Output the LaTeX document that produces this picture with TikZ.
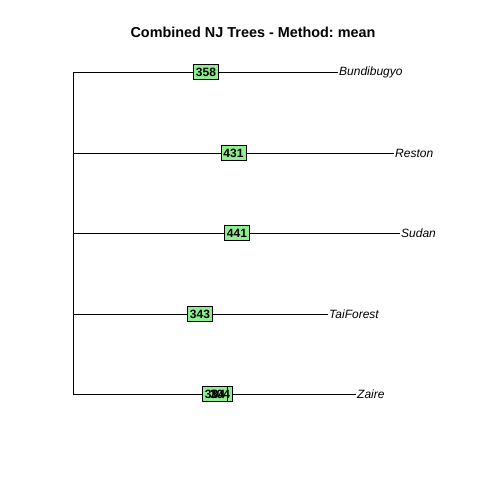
\documentclass[tikz,border=0pt]{standalone}
\usepackage{fontspec}
\setmainfont{Liberation Sans}
\definecolor{lgreen}{HTML}{90EE90}
\begin{document}
\frenchspacing
\begin{tikzpicture}[x=1pt,y=-1pt,
  edge/.style={draw=black,line width=0.75pt},
  tiplab/.style={anchor=west,inner sep=1pt,font=\fontsize{12}{12}\selectfont\itshape},
  nlab/.style={draw=black,fill=lgreen,line width=0.6pt,inner xsep=2.6pt,inner ysep=0pt,minimum height=15pt,font=\fontsize{12}{12}\selectfont\bfseries},
  ntxt/.style={inner sep=0pt,font=\fontsize{12}{12}\selectfont\bfseries},
  ttl/.style={font=\fontsize{14.4}{14.4}\selectfont\bfseries}]
\useasboundingbox (0,0) rectangle (480,480);
\node[ttl] (title) at (253,32) {Combined NJ Trees - Method: mean};
\coordinate (rtop) at (73,72);
\coordinate (rbot) at (73,394);
\coordinate (r2) at (73,153);
\coordinate (r3) at (73,233);
\coordinate (r4) at (73,314);
\coordinate (e1) at (338,72);
\coordinate (e2) at (394,153);
\coordinate (e3) at (400,233);
\coordinate (e4) at (328,314);
\coordinate (e5) at (356,394);
\draw[edge] (rtop) -- (rbot);
\draw[edge] (rtop) -- (e1);
\draw[edge] (r2) -- (e2);
\draw[edge] (r3) -- (e3);
\draw[edge] (r4) -- (e4);
\draw[edge] (rbot) -- (e5);
\node[tiplab] (t1) at (e1) {Bundibugyo};
\node[tiplab] (t2) at (e2) {Reston};
\node[tiplab] (t3) at (e3) {Sudan};
\node[tiplab] (t4) at (e4) {TaiForest};
\node[tiplab] (t5) at (e5) {Zaire};
\node[nlab] (n1) at (206,72) {358};
\node[nlab] (n2) at (233.5,153) {431};
\node[nlab] (n3) at (237,233) {441};
\node[nlab] (n4) at (200,314) {343};
\node[nlab] (n5b) at (220,394) {\phantom{304}};
\node[nlab] (n5a) at (215,394) {\phantom{384}};
\node[ntxt] (n5at) at (215,394) {384};
\node[ntxt] (n5bt) at (220,394) {304};
\end{tikzpicture}
\end{document}
